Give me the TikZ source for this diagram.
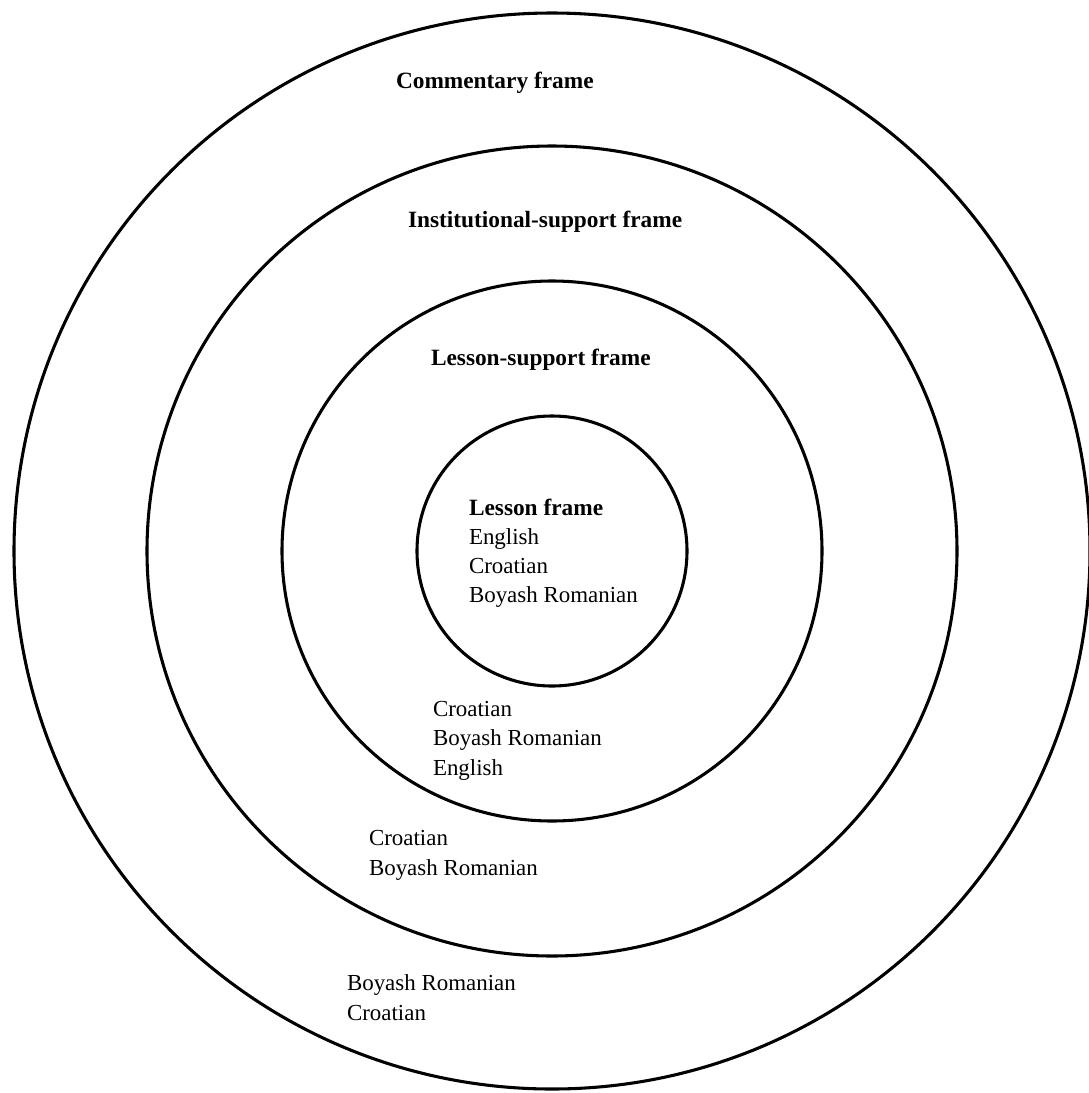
\documentclass[tikz,border=0pt]{standalone}
\usepackage{fontspec}
\setmainfont{Liberation Serif}
\begin{document}
\begin{tikzpicture}[x=0.75pt,y=-0.75pt,
  ring/.style={draw=black,line width=2.3pt},
  lbl/.style={anchor=base west,inner sep=0pt,outer sep=0pt,font=\fontsize{17.2pt}{22pt}\selectfont},
  ttl/.style={lbl,font=\fontsize{17.5pt}{22pt}\selectfont\bfseries}]
\useasboundingbox (0,0) rectangle (1089,1093);
\fill[white] (0,0) rectangle (1089,1093);
\coordinate (c) at (552,551);
\draw[ring] (c) circle[radius=538];
\draw[ring] (c) circle[radius=405];
\draw[ring] (c) circle[radius=270];
\draw[ring] (c) circle[radius=135];
% titles
\node[ttl] (t1) at (396,88) {Commentary frame};
\node[ttl] (t2) at (408,227) {Institutional-support frame};
\node[ttl] (t3) at (431,365) {Lesson-support frame};
\node[ttl] (t4) at (469,515) {Lesson frame};
% lesson frame
\node[lbl] (a1) at (469,544) {English};
\node[lbl] (a2) at (469,573) {Croatian};
\node[lbl] (a3) at (469,602) {Boyash Romanian};
% lesson-support frame
\node[lbl] (b1) at (433,716) {Croatian};
\node[lbl] (b2) at (433,745) {Boyash Romanian};
\node[lbl] (b3) at (433,775) {English};
% institutional-support frame
\node[lbl] (d1) at (369,845) {Croatian};
\node[lbl] (d2) at (369,875) {Boyash Romanian};
% commentary frame
\node[lbl] (e1) at (347,990) {Boyash Romanian};
\node[lbl] (e2) at (347,1020) {Croatian};
\end{tikzpicture}
\end{document}
